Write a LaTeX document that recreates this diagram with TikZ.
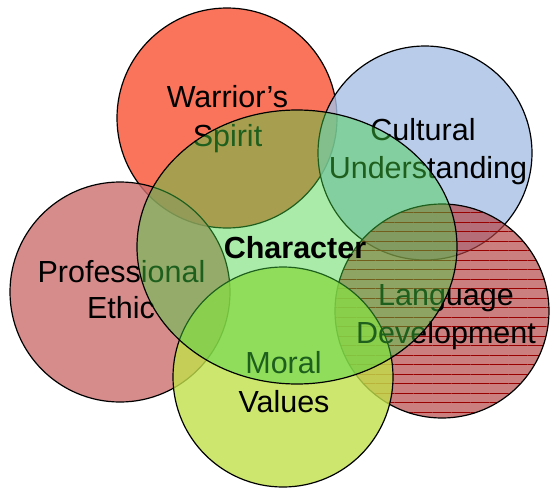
\documentclass[tikz,border=0pt]{standalone}
\usepackage{fontspec}
\setmainfont{Liberation Sans}
\usetikzlibrary{shapes.geometric, patterns.meta}
\definecolor{warriorred}{RGB}{249,80,50}
\definecolor{culturalblue}{RGB}{167,192,230}
\definecolor{ethicpink}{RGB}{205,111,111}
\definecolor{languagered}{RGB}{180,66,66}
\definecolor{moralgreen}{RGB}{193,224,74}
\definecolor{charactergreen}{RGB}{67,211,67}
\tikzstyle{ring} = [circle, draw=black, line width=1.2pt, inner sep=0pt, fill opacity=0.8]
\tikzstyle{word} = [font=\fontsize{30.5}{38}\selectfont, anchor=base, inner sep=0pt]

\begin{document}
\begin{tikzpicture}[x=1pt, y=-1pt]
        \useasboundingbox (0,0) rectangle (550,488);
        % the five circles
        \node (warrior) [ring, fill=warriorred, minimum size=220pt] at (227,118) {};
        \node (cultural) [ring, fill=culturalblue, minimum size=214pt] at (425,153) {};
        \node (ethic) [ring, fill=ethicpink, minimum size=220pt] at (120,292) {};
        \node (language) [ring, minimum size=214pt, preaction={fill=languagered, fill opacity=0.68},
            pattern={Lines[distance=9.5pt, line width=0.4pt]}, pattern color=red!60!black] at (442,311) {};
        \node (moral) [ring, fill=moralgreen, minimum size=220pt] at (283,377) {};
        \node (warriorA) [word] at (227.5,107) {Warrior’s};
        \node (warriorB) [word] at (227.5,146) {Spirit};
        \node (culturalA) [word] at (423,140) {Cultural};
        \node (culturalB) [word] at (428,178) {Understanding};
        \node (ethicA) [word] at (121.5,282) {Professional};
        \node (ethicB) [word] at (121,318) {Ethic};
        \node (languageA) [word] at (446,305) {Language};
        \node (languageB) [word] at (446,343) {Development};
        \node (moralA) [word] at (283.5,373) {Moral};
        \node (moralB) [word] at (284,412) {Values};
        % the ellipse on top
        \node (character) [ellipse, draw=black, line width=1.2pt, inner sep=0pt, fill=charactergreen,
            fill opacity=0.45, minimum width=320pt, minimum height=274pt] at (297,247) {};
        \node (characterA) [word, font=\fontsize{30.5}{38}\selectfont\bfseries] at (295,258) {Character};
    \end{tikzpicture}
\end{document}
